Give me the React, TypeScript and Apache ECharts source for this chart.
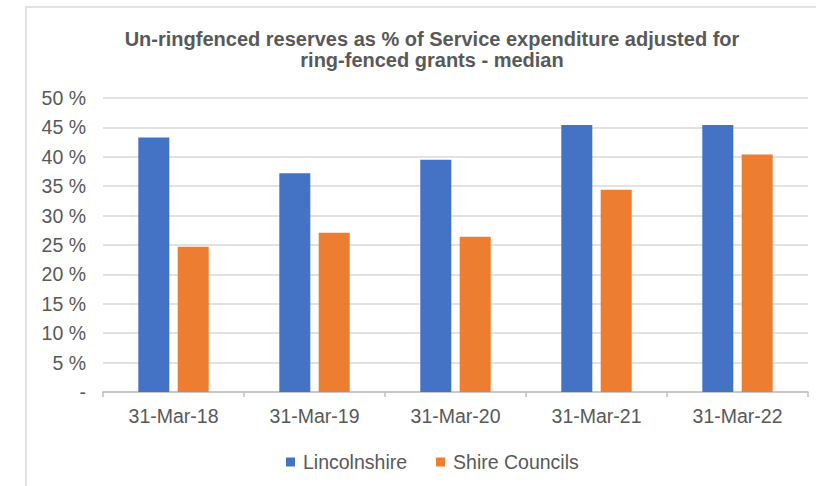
import React, { useEffect, useRef } from "react";
import * as echarts from "echarts";

const categories = ["31-Mar-18", "31-Mar-19", "31-Mar-20", "31-Mar-21", "31-Mar-22"];
const lincolnshire = [43.3, 37.2, 39.5, 45.4, 45.4];
const shireCouncils = [24.7, 27.1, 26.4, 34.4, 40.4];
const seriesNames = ["Lincolnshire", "Shire Councils"];
const titleText = "Un-ringfenced reserves as % of Service expenditure adjusted for\nring-fenced grants - median";

export default function App() {
  const ref = useRef<HTMLDivElement>(null);
  useEffect(() => {
    if (!ref.current) return;
    const chart = echarts.init(ref.current, null, { renderer: "svg" });
    const font = "'Liberation Sans', Arial, sans-serif";
    chart.setOption({
      animation: false,
      backgroundColor: "#ffffff",
      textStyle: { fontFamily: font },
      graphic: [
        {
          type: "rect",
          shape: { x: 26, y: 7, width: 900, height: 600 },
          style: { fill: "none", stroke: "#d9d9d9", lineWidth: 1.5 },
          silent: true,
        },
      ],
      title: {
        text: titleText,
        left: 427,
        top: 23,
        textAlign: "center",
        textStyle: {
          fontFamily: font,
          fontSize: 20,
          fontWeight: "bold",
          color: "#595959",
          lineHeight: 21,
        },
      },
      legend: {
        data: seriesNames,
        left: 281,
        top: 447,
        icon: "rect",
        itemWidth: 9,
        itemHeight: 9,
        itemGap: 29,
        textStyle: { fontFamily: font, fontSize: 19.5, color: "#595959", padding: [0, 0, 0, 3] },
      },
      grid: { left: 103, right: 8, top: 98, bottom: 94, containLabel: false },
      xAxis: {
        type: "category",
        data: categories,
        axisLine: { lineStyle: { color: "#bfbfbf", width: 1.5 } },
        axisTick: { show: true, length: 5, lineStyle: { color: "#bfbfbf", width: 1.5 } },
        axisLabel: { fontFamily: font, fontSize: 19.5, color: "#595959", margin: 14 },
      },
      yAxis: {
        type: "value",
        min: 0,
        max: 50,
        interval: 5,
        axisLine: { show: false },
        axisTick: { show: false },
        splitLine: { lineStyle: { color: "#d9d9d9", width: 1.5 } },
        axisLabel: {
          fontFamily: font,
          fontSize: 19.5,
          color: "#595959",
          margin: 17,
          formatter: (v: number) => (v === 0 ? "-" : v + " %"),
        },
      },
      series: [
        {
          name: seriesNames[0],
          type: "bar",
          data: lincolnshire,
          barWidth: "22%",
          barGap: "27%",
          itemStyle: { color: "#4472C4" },
        },
        {
          name: seriesNames[1],
          type: "bar",
          data: shireCouncils,
          barWidth: "22%",
          itemStyle: { color: "#ED7D31" },
        },
      ],
    });
    return () => chart.dispose();
  }, []);
  return (
    <div
      ref={ref}
      style={{ position: "absolute", left: 0, top: 0, width: 816, height: 486 }}
    />
  );
}
